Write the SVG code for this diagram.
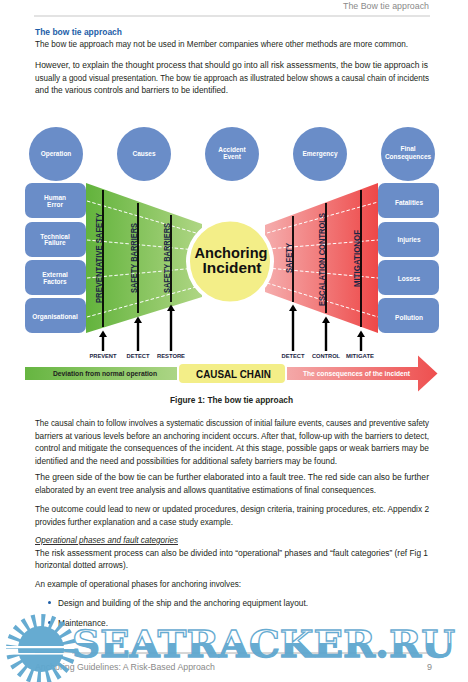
<svg xmlns="http://www.w3.org/2000/svg" width="468" height="682" viewBox="0 0 468 682">
<defs>
<linearGradient id="gGreen" x1="0" y1="0" x2="1" y2="0"><stop offset="0" stop-color="#62b33c"/><stop offset="1" stop-color="#afd684"/></linearGradient>
<linearGradient id="gRed" x1="0" y1="0" x2="1" y2="0"><stop offset="0" stop-color="#f5adad"/><stop offset="1" stop-color="#ee4848"/></linearGradient>
<linearGradient id="gBarG" x1="0" y1="0" x2="1" y2="0"><stop offset="0" stop-color="#66b541"/><stop offset="1" stop-color="#acd585"/></linearGradient>
<linearGradient id="gBarR" x1="0" y1="0" x2="1" y2="0"><stop offset="0" stop-color="#f4a8a8"/><stop offset="1" stop-color="#ee4f4f"/></linearGradient>
<linearGradient id="gWm" x1="0" y1="0" x2="0" y2="1"><stop offset="0.5" stop-color="#ffffff"/><stop offset="0.5" stop-color="#5ea7cf"/></linearGradient>
</defs>
<style>
.b{font-family:"Liberation Sans",Arial,sans-serif;font-size:9.2px;fill:#231f20}
.hd{font-family:"Liberation Sans",Arial,sans-serif;font-size:8.6px;fill:#8a8a8a}
.ct{font-family:"Liberation Sans",Arial,sans-serif;font-size:6.5px;font-weight:bold;fill:#ffffff;text-anchor:middle}
.circ{fill:#6a8dc8}
.box{fill:#6a8dc8}
.bar{stroke:#000;stroke-width:1.8}
.dash{stroke:#ffffff;stroke-width:1;stroke-dasharray:3.5 2;fill:none}
.vt{font-family:"Liberation Sans",Arial,sans-serif;font-size:8.6px;font-weight:bold;fill:#1b2544;text-anchor:middle}
.shaft{stroke:#000;stroke-width:2.4}
.lbl{font-family:"Liberation Sans",Arial,sans-serif;font-size:5.4px;font-weight:bold;fill:#1b2544;text-anchor:middle}
.cc{font-family:"Liberation Sans",Arial,sans-serif;font-weight:bold}
</style>
<rect width="468" height="682" fill="#ffffff"/>

<g id="header">
<text class="hd" x="343" y="9" textLength="86" lengthAdjust="spacingAndGlyphs">The Bow tie approach</text>
<line x1="34" y1="16" x2="430" y2="16" stroke="#c8c8c8" stroke-width="1.2"/>
</g>

<g id="intro">
<text x="35" y="35" font-family="Liberation Sans, Arial, sans-serif" font-size="9.4" font-weight="bold" fill="#1d5ea8" textLength="87" lengthAdjust="spacingAndGlyphs">The bow tie approach</text>
<text class="b" x="35" y="47" textLength="373" lengthAdjust="spacingAndGlyphs">The bow tie approach may not be used in Member companies where other methods are more common.</text>
<text class="b" x="35" y="68" textLength="393" lengthAdjust="spacingAndGlyphs">However, to explain the thought process that should go into all risk assessments, the bow tie approach is</text>
<text class="b" x="35" y="80.5" textLength="394" lengthAdjust="spacingAndGlyphs">usually a good visual presentation. The bow tie approach as illustrated below shows a causal chain of incidents</text>
<text class="b" x="35" y="93" textLength="193" lengthAdjust="spacingAndGlyphs">and the various controls and barriers to be identified.</text>
</g>

<g id="circles">
<circle class="circ" cx="56" cy="154" r="27"/>
<circle class="circ" cx="144" cy="154" r="27"/>
<circle class="circ" cx="232" cy="154" r="27"/>
<circle class="circ" cx="320" cy="154" r="27"/>
<circle class="circ" cx="408" cy="154" r="27"/>
<text class="ct" x="56" y="156">Operation</text>
<text class="ct" x="144" y="156">Causes</text>
<text class="ct" x="232" y="151.5">Accident</text>
<text class="ct" x="232" y="158.5">Event</text>
<text class="ct" x="320" y="156">Emergency</text>
<text class="ct" x="408" y="151">Final</text>
<text class="ct" x="408" y="158.5">Consequences</text>
</g>

<g id="left-boxes">
<rect class="box" x="25" y="183" width="61" height="35" rx="7"/>
<rect class="box" x="25" y="222" width="61" height="35" rx="7"/>
<rect class="box" x="25" y="260" width="61" height="35" rx="7"/>
<rect class="box" x="25" y="298" width="61" height="35" rx="7"/>
<text class="ct" x="55" y="200">Human</text>
<text class="ct" x="55" y="207">Error</text>
<text class="ct" x="55" y="238.5">Technical</text>
<text class="ct" x="55" y="245">Failure</text>
<text class="ct" x="55" y="276.5">External</text>
<text class="ct" x="55" y="283.5">Factors</text>
<text class="ct" x="55" y="318.5">Organisational</text>
</g>

<g id="right-boxes">
<rect class="box" x="378" y="183" width="61" height="35" rx="7"/>
<rect class="box" x="378" y="222" width="61" height="35" rx="7"/>
<rect class="box" x="378" y="260" width="61" height="35" rx="7"/>
<rect class="box" x="378" y="298" width="61" height="35" rx="7"/>
<text class="ct" x="409" y="204.5">Fatalities</text>
<text class="ct" x="409" y="241.5">Injuries</text>
<text class="ct" x="409" y="280.5">Losses</text>
<text class="ct" x="409" y="319.5">Pollution</text>
</g>

<g id="green-side">
<path d="M86,183 L202,224 L202,297 L86,333 Z" fill="url(#gGreen)"/>
<line class="dash" x1="87" y1="201" x2="196" y2="233"/>
<line class="dash" x1="87" y1="240" x2="196" y2="250"/>
<line class="dash" x1="87" y1="278" x2="196" y2="268"/>
<line class="dash" x1="87" y1="317" x2="196" y2="287"/>
</g>

<g id="red-side">
<path d="M265,225 L378,183 L378,333 L265,292 Z" fill="url(#gRed)"/>
<line class="dash" x1="267" y1="233" x2="378" y2="202"/>
<line class="dash" x1="267" y1="249" x2="378" y2="240"/>
<line class="dash" x1="267" y1="268" x2="378" y2="278"/>
<line class="dash" x1="267" y1="283" x2="378" y2="317"/>
</g>

<g id="anchoring-incident">
<circle cx="230" cy="261.5" r="42" fill="#f3ee88" stroke="#ffffff" stroke-width="4"/>
<text class="cc" x="231" y="257.5" font-size="15.5" text-anchor="middle" fill="#111" textLength="73" lengthAdjust="spacingAndGlyphs">Anchoring</text>
<text class="cc" x="232" y="273" font-size="15.5" text-anchor="middle" fill="#111" textLength="59" lengthAdjust="spacingAndGlyphs">Incident</text>
</g>

<g id="barriers">
<line class="bar" x1="103" y1="190" x2="103" y2="327"/>
<line class="bar" x1="138" y1="203" x2="138" y2="313"/>
<line class="bar" x1="171" y1="215" x2="171" y2="302"/>
<line class="bar" x1="293" y1="216" x2="293" y2="302"/>
<line class="bar" x1="326" y1="203" x2="326" y2="313"/>
<line class="bar" x1="361" y1="190" x2="361" y2="327"/>
<text class="vt" transform="translate(101.8,258) rotate(-90)" textLength="90" lengthAdjust="spacingAndGlyphs">PREVENTATIVE SAFETY</text>
<text class="vt" transform="translate(136.8,258) rotate(-90)" textLength="70" lengthAdjust="spacingAndGlyphs">SAFETY BARRIERS</text>
<text class="vt" transform="translate(169.8,258) rotate(-90)" textLength="70" lengthAdjust="spacingAndGlyphs">SAFETY BARRIERS</text>
<text class="vt" transform="translate(291.8,258) rotate(-90)" textLength="30" lengthAdjust="spacingAndGlyphs">SAFETY</text>
<text class="vt" transform="translate(324.8,259.5) rotate(-90)" textLength="93" lengthAdjust="spacingAndGlyphs">ESCALATION CONTROLS</text>
<text class="vt" transform="translate(359.8,258.5) rotate(-90)" textLength="57" lengthAdjust="spacingAndGlyphs">MITIGATIONOF</text>
</g>

<g id="connectors">
<line class="shaft" x1="103" y1="351" x2="103" y2="336"/><path d="M99,337 L103,330.5 L107,337 Z"/>
<line class="shaft" x1="138" y1="351" x2="138" y2="322"/><path d="M134,323 L138,316.5 L142,323 Z"/>
<line class="shaft" x1="171" y1="351" x2="171" y2="310"/><path d="M167,311 L171,304.5 L175,311 Z"/>
<line class="shaft" x1="293" y1="351" x2="293" y2="310"/><path d="M289,311 L293,304.5 L297,311 Z"/>
<line class="shaft" x1="326" y1="351" x2="326" y2="322"/><path d="M322,323 L326,316.5 L330,323 Z"/>
<line class="shaft" x1="361" y1="351" x2="361" y2="336"/><path d="M357,337 L361,330.5 L365,337 Z"/>
</g>

<g id="action-labels">
<text class="lbl" x="103" y="358" textLength="27" lengthAdjust="spacingAndGlyphs">PREVENT</text>
<text class="lbl" x="138" y="358" textLength="23" lengthAdjust="spacingAndGlyphs">DETECT</text>
<text class="lbl" x="171" y="358" textLength="28" lengthAdjust="spacingAndGlyphs">RESTORE</text>
<text class="lbl" x="293" y="358" textLength="23" lengthAdjust="spacingAndGlyphs">DETECT</text>
<text class="lbl" x="326" y="358" textLength="28" lengthAdjust="spacingAndGlyphs">CONTROL</text>
<text class="lbl" x="360" y="358" textLength="28" lengthAdjust="spacingAndGlyphs">MITIGATE</text>
</g>

<g id="causal-chain">
<rect x="25" y="367" width="152" height="13" fill="url(#gBarG)"/>
<text class="cc" x="105" y="375.8" font-size="6.3" text-anchor="middle" fill="#1e1e1e" textLength="104" lengthAdjust="spacingAndGlyphs">Deviation from normal operation</text>
<rect x="179" y="364" width="106" height="19" rx="4" fill="#f3ee88"/>
<text class="cc" x="233.5" y="377.5" font-size="10.5" text-anchor="middle" fill="#111" textLength="75" lengthAdjust="spacingAndGlyphs">CAUSAL CHAIN</text>
<path d="M287,367 L418,367 L418,355.5 L437.5,373.5 L418,391.5 L418,380 L287,380 Z" fill="url(#gBarR)"/>
<text class="cc" x="356.5" y="375.5" font-size="6.3" text-anchor="middle" fill="#ffffff" textLength="107" lengthAdjust="spacingAndGlyphs">The consequences of the incident</text>
</g>

<g id="caption">
<text x="231.5" y="403" font-family="Liberation Sans, Arial, sans-serif" font-size="9.2" font-weight="bold" fill="#231f20" text-anchor="middle" textLength="123" lengthAdjust="spacingAndGlyphs">Figure 1: The bow tie approach</text>
</g>

<g id="body">
<text class="b" x="35" y="426" textLength="394" lengthAdjust="spacingAndGlyphs">The causal chain to follow involves a systematic discussion of initial failure events, causes and preventive safety</text>
<text class="b" x="35" y="438.5" textLength="394" lengthAdjust="spacingAndGlyphs">barriers at various levels before an anchoring incident occurs. After that, follow-up with the barriers to detect,</text>
<text class="b" x="35" y="451" textLength="394" lengthAdjust="spacingAndGlyphs">control and mitigate the consequences of the incident. At this stage, possible gaps or weak barriers may be</text>
<text class="b" x="35" y="463.5" textLength="302" lengthAdjust="spacingAndGlyphs">identified and the need and possibilities for additional safety barriers may be found.</text>
<text class="b" x="35" y="480" textLength="394" lengthAdjust="spacingAndGlyphs">The green side of the bow tie can be further elaborated into a fault tree. The red side can also be further</text>
<text class="b" x="35" y="492.5" textLength="341" lengthAdjust="spacingAndGlyphs">elaborated by an event tree analysis and allows quantitative estimations of final consequences.</text>
<text class="b" x="35" y="512" textLength="394" lengthAdjust="spacingAndGlyphs">The outcome could lead to new or updated procedures, design criteria, training procedures, etc. Appendix 2</text>
<text class="b" x="35" y="524.5" textLength="198" lengthAdjust="spacingAndGlyphs">provides further explanation and a case study example.</text>
<text class="b" x="35" y="543" font-style="italic" text-decoration="underline" textLength="143" lengthAdjust="spacingAndGlyphs">Operational phases and fault categories</text>
<text class="b" x="35" y="555.5" textLength="393" lengthAdjust="spacingAndGlyphs">The risk assessment process can also be divided into “operational” phases and “fault categories” (ref Fig 1</text>
<text class="b" x="35" y="568" textLength="93" lengthAdjust="spacingAndGlyphs">horizontal dotted arrows).</text>
<text class="b" x="35" y="586.5" textLength="206" lengthAdjust="spacingAndGlyphs">An example of operational phases for anchoring involves:</text>
<circle cx="49.5" cy="602.5" r="1.5" fill="#1d5ea8"/>
<text class="b" x="58" y="605.5" textLength="250" lengthAdjust="spacingAndGlyphs">Design and building of the ship and the anchoring equipment layout.</text>
<circle cx="49.5" cy="622.5" r="1.5" fill="#1d5ea8"/>
<text class="b" x="58" y="625.5" textLength="50" lengthAdjust="spacingAndGlyphs">Maintenance.</text>
</g>

<g id="footer">
<line x1="35" y1="653" x2="430" y2="653" stroke="#9a9a9a" stroke-width="0.8"/>
<text x="35" y="670" font-family="Liberation Sans, Arial, sans-serif" font-size="9" fill="#8a8a8a" textLength="180" lengthAdjust="spacingAndGlyphs">Anchoring Guidelines: A Risk-Based Approach</text>
<text x="427" y="670" font-family="Liberation Sans, Arial, sans-serif" font-size="9" fill="#8a8a8a">9</text>
</g>

<g id="watermark" opacity="0.95">
<circle cx="41" cy="649" r="28" fill="none" stroke="#5ea7cf" stroke-width="14" stroke-dasharray="3.5 5.3"/>
<circle cx="41" cy="649" r="23" fill="#5ea7cf"/>
<rect x="0" y="646" width="80" height="2.2" fill="#ffffff"/>
<rect x="10" y="653" width="62" height="1.6" fill="#ffffff"/>
<text x="72" y="657" font-family="DejaVu Serif, Liberation Serif, serif" font-weight="bold" font-size="38" fill="url(#gWm)" stroke="#5ea7cf" stroke-width="1.3" textLength="383" lengthAdjust="spacingAndGlyphs">SEATRACKER.RU</text>
</g>
</svg>
